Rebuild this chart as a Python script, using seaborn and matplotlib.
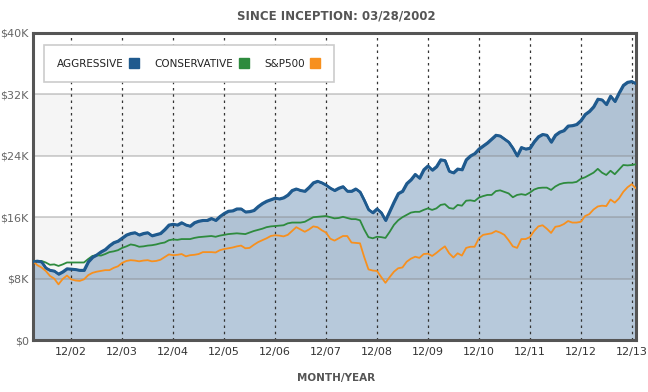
import matplotlib
matplotlib.use('Agg')
import matplotlib.pyplot as plt
from matplotlib.lines import Line2D
import numpy as np
import pandas as pd
import seaborn as sns

# Growth of $10K, monthly, in $K
aggressive = [
    10.2, 10.3, 10.2, 9.4, 9.1, 9.0, 8.6, 8.9, 9.3, 9.25,
    9.2, 9.1, 9.1, 10.2, 10.8, 11.1, 11.5, 11.8, 12.3, 12.7,
    12.9, 13.3, 13.7, 13.9, 14.0, 13.7, 13.9, 14.0, 13.6, 13.75,
    13.9, 14.4, 15.0, 15.1, 15.0, 15.3, 15.0, 14.85, 15.3, 15.5,
    15.6, 15.6, 15.85, 15.6, 16.1, 16.5, 16.8, 16.85, 17.1, 17.1,
    16.7, 16.75, 16.9, 17.4, 17.8, 18.1, 18.3, 18.5, 18.4, 18.55,
    18.9, 19.5, 19.7, 19.5, 19.4, 19.9, 20.5, 20.7, 20.5, 20.2,
    19.8, 19.5, 19.8, 20.0, 19.4, 19.4, 19.7, 19.3, 18.2, 17.0,
    16.6, 17.1, 16.6, 15.6, 16.8, 18.0, 19.1, 19.4, 20.4, 20.9,
    21.6, 21.1, 22.2, 22.7, 22.15, 22.6, 23.5, 23.4, 22.0, 21.8,
    22.3, 22.2, 23.5, 24.0, 24.3, 24.9, 25.3, 25.7, 26.2, 26.7,
    26.6, 26.2, 25.8, 25.0, 24.0, 25.1, 24.9, 25.0, 25.85, 26.5,
    26.8, 26.7, 25.8, 26.7, 27.1, 27.3, 27.9, 27.95, 28.1, 28.6,
    29.4, 29.8, 30.4, 31.4, 31.3, 30.7, 31.8, 31.1, 32.2, 33.2,
    33.6, 33.7, 33.4,
]
conservative = [
    10.3, 10.3, 10.3, 10.1, 9.8, 9.85, 9.65, 9.85, 10.1, 10.1,
    10.1, 10.1, 10.1, 10.55, 10.95, 11.05, 11.0, 11.2, 11.45, 11.55,
    11.7, 12.0, 12.2, 12.45, 12.35, 12.15, 12.2, 12.3, 12.35, 12.45,
    12.6, 12.7, 13.0, 13.1, 13.05, 13.15, 13.15, 13.15, 13.3, 13.4,
    13.45, 13.5, 13.55, 13.45, 13.6, 13.7, 13.8, 13.85, 13.9, 13.85,
    13.8, 14.0, 14.2, 14.35, 14.5, 14.7, 14.8, 14.85, 14.9, 14.95,
    15.2, 15.3, 15.3, 15.3, 15.4, 15.7, 16.0, 16.05, 16.1, 16.15,
    16.0, 15.85, 15.9, 16.05, 15.9, 15.75, 15.75, 15.6, 14.4, 13.4,
    13.25, 13.45, 13.4, 13.3, 14.1, 15.0, 15.6, 16.0, 16.3, 16.6,
    16.7, 16.7, 16.95, 17.15, 16.95, 17.15, 17.6, 17.7, 17.2, 17.1,
    17.6, 17.5, 18.15, 18.2, 18.1, 18.55, 18.75, 18.9, 18.9, 19.4,
    19.5, 19.3, 19.1, 18.6, 18.9, 19.0, 18.9, 19.2, 19.6, 19.8,
    19.85, 19.85, 19.55, 20.0, 20.3, 20.45, 20.5, 20.5, 20.6, 21.0,
    21.2, 21.5, 21.8, 22.3, 21.8, 21.5, 22.05, 21.6, 22.2, 22.8,
    22.75, 22.8, 22.9,
]
sp500 = [
    10.3, 9.75, 9.45, 9.0, 8.35, 8.0, 7.25, 7.95, 8.4, 7.9,
    7.75, 7.7, 7.9, 8.45, 8.75, 8.9, 9.0, 9.1, 9.1, 9.4,
    9.6, 10.05, 10.3, 10.4, 10.35, 10.25, 10.35, 10.4, 10.25, 10.3,
    10.45, 10.8, 11.15, 11.05, 11.1, 11.2, 10.9, 11.05, 11.1, 11.2,
    11.45, 11.45, 11.45, 11.4, 11.7, 11.85, 11.95, 12.05, 12.2, 12.3,
    11.95, 12.0, 12.4, 12.75, 13.0, 13.25, 13.55, 13.65, 13.6, 13.5,
    13.7, 14.2, 14.7, 14.4, 14.1, 14.4, 14.8, 14.7, 14.3, 14.0,
    13.2, 12.95, 13.25, 13.55, 13.55, 12.7, 12.65, 12.6, 10.8, 9.2,
    9.05, 9.0, 8.2, 7.45, 8.2, 8.9, 9.35, 9.45, 10.2, 10.6,
    10.85, 10.7, 11.2, 11.25, 10.95, 11.35, 11.8, 12.2, 11.3, 10.75,
    11.3, 11.0, 12.0, 12.15, 12.15, 13.25, 13.7, 13.8, 13.9, 14.2,
    14.0, 13.7, 13.0, 12.2, 12.0, 13.15, 13.15, 13.4, 14.2, 14.8,
    14.95, 14.5, 13.95, 14.75, 14.85, 15.1, 15.5, 15.3, 15.3, 15.4,
    16.15, 16.4, 17.0, 17.4, 17.5, 17.45, 18.3, 17.9, 18.45, 19.3,
    19.9, 20.3, 19.75,
]

series_names = ['AGGRESSIVE', 'CONSERVATIVE', 'S&P500']
colors = ['#1f5a8e', '#2e8b3e', '#f7901e']

# month index (0 = inception 03/2002); December of each year
tick_months = [9, 21, 33, 45, 57, 69, 81, 93, 105, 117, 129, 141]
tick_labels = ['12/02', '12/03', '12/04', '12/05', '12/06', '12/07',
               '12/08', '12/09', '12/10', '12/11', '12/12', '12/13']
y_ticks = [0, 8, 16, 24, 32, 40]
y_labels = ['\\$0', '\\$8K', '\\$16K', '\\$24K', '\\$32K', '\\$40K']

sns.set_style('white')
plt.rcParams['font.family'] = ['DejaVu Sans']

fig = plt.figure(figsize=(6.48, 3.92), dpi=100)
ax = fig.add_axes([33 / 648, 52 / 392, 603 / 648, 307 / 392])

# alternating background bands
ax.axhspan(8, 16, color='#f5f5f5', zorder=0, lw=0)
ax.axhspan(24, 32, color='#f5f5f5', zorder=0, lw=0)

months = np.arange(len(aggressive))
ax.fill_between(months, aggressive, 0, facecolor=(0.12, 0.35, 0.56, 0.32),
                edgecolor=colors[0], linewidth=1.8, zorder=1)

for v in y_ticks[1:-1]:
    ax.axhline(v, color='#7f7f7f', alpha=0.45, lw=1.1, zorder=2)
for m in tick_months:
    ax.axvline(m, color='#333333', lw=0.9, ls=(0, (2, 3)), zorder=2)

sns.lineplot(x=np.arange(len(sp500)), y=sp500, ax=ax, color=colors[2],
             linewidth=1.3, zorder=3)
sns.lineplot(x=np.arange(len(conservative)), y=conservative, ax=ax,
             color=colors[1], linewidth=1.3, zorder=4)
sns.lineplot(x=months, y=aggressive, ax=ax, color=colors[0],
             linewidth=1.9, zorder=5)

ax.set_xlim(0, 142)
ax.set_ylim(0, 40)
ax.set_xticks(tick_months)
ax.set_xticklabels(tick_labels)
ax.set_yticks(y_ticks)
ax.set_yticklabels(y_labels)
ax.tick_params(axis='both', length=0, labelsize=8)
ax.tick_params(axis='x', pad=5, colors='#333333')
ax.tick_params(axis='y', pad=3, colors='#666666')
ax.set_xlabel('')
ax.set_ylabel('')

for s in ax.spines.values():
    s.set_visible(True)
    s.set_color('#555555')
    s.set_linewidth(2.2)

handles = [Line2D([], [], marker='s', ls='none', color=c, markersize=7.5)
           for c in colors]
leg = ax.legend(handles, series_names, ncol=3, loc='upper left',
                bbox_to_anchor=(0.018, 0.961), borderaxespad=0,
                markerfirst=False, frameon=True, fancybox=False,
                edgecolor='#cccccc', facecolor='white', framealpha=1,
                borderpad=1.3, handletextpad=0.45, columnspacing=1.5,
                handlelength=1.0, prop={'size': 7.5})
leg.get_frame().set_linewidth(1.2)
leg.set_zorder(10)
for t in leg.get_texts():
    t.set_color('#222222')

fig.text(336 / 648, 1 - 16 / 392, 'SINCE INCEPTION: 03/28/2002',
         ha='center', va='center', fontsize=8.5, fontweight='bold',
         color='#555555')
fig.text(336 / 648, 1 - 378 / 392, 'MONTH/YEAR', ha='center', va='center',
         fontsize=7.5, fontweight='bold', color='#555555')

fig.savefig('out.png', dpi=100)
